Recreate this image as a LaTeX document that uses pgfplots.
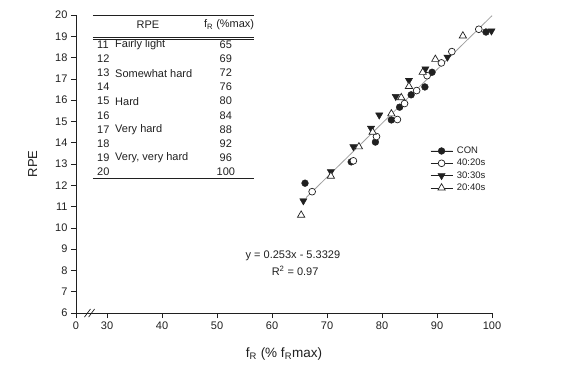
\documentclass[border=0pt]{standalone}
\usepackage{pgfplots}
\pgfplotsset{compat=1.18}
\usepackage{fontspec}
\setmainfont{Liberation Sans}
\definecolor{ink}{HTML}{202020}
\tikzset{tabnum/.style={anchor=west, text=ink, inner sep=0pt},
  tabval/.style={text=ink, inner sep=0pt}}
\begin{document}
\begin{tikzpicture}[font=\fontsize{11}{13}\selectfont]
\begin{axis}[
  scale only axis, width=416pt, height=298pt,
  xmin=24.36, xmax=100, ymin=6, ymax=20,
  axis lines=left,
  axis line style={-, ink, line width=0.7pt},
  xtick={24.36,30,40,50,60,70,80,90,100},
  xticklabels={0,30,40,50,60,70,80,90,100},
  ytick={6,7,...,20},
  tick align=outside, major tick length=5pt,
  tick style={ink, line width=0.7pt},
  /pgf/number format/assume math mode=true,
  ticklabel style={font=\fontsize{11}{13}\selectfont, text=ink},
  xlabel={f\textsubscript{R} (\% f\textsubscript{R}max)},
  ylabel={RPE},
  every axis x label/.style={at={(axis description cs:0.5,-0.138)}, anchor=center, font=\fontsize{13.5}{15}\selectfont, text=ink},
  every axis y label/.style={at={(axis description cs:-0.104,0.5)}, rotate=90, anchor=center, font=\fontsize{13}{15}\selectfont, text=ink},
  clip=false,
  legend style={draw=none, fill=none, at={(axis description cs:0.851,0.565)}, anchor=north west,
    inner sep=0pt, row sep=0pt, column sep=2.5pt, font=\fontsize{9.5}{11}\selectfont, text=ink,
    nodes={text height=7.3pt, text depth=2pt, inner sep=1.5pt}},
  legend cell align=left,
  mylegend/.style={legend image code/.code={
      \draw[ink, line width=0.7pt] (0pt,0pt) -- (22pt,0pt);
      \draw[##1] plot coordinates {(11pt,0pt)};}},
]
% regression line
\addplot[forget plot, gray!75, line width=0.8pt] coordinates {(66.2,11.42) (100,19.967)};

\addplot[only marks, mark=*, mark size=3.4pt, draw=ink, fill=ink, mylegend] table {
x y
66.0 12.1
74.4 13.1
78.8 14.03
81.7 15.07
83.2 15.67
85.3 16.25
87.8 16.62
89.1 17.31
98.9 19.2
};
\addlegendentry{CON}

\addplot[only marks, mark=*, mark size=3.4pt, mark options={draw=ink, fill=white, line width=0.7pt}, mylegend] table {
x y
67.3 11.7
74.8 13.15
79.0 14.29
82.8 15.09
84.1 15.84
86.3 16.45
88.2 17.15
90.8 17.75
92.7 18.28
97.6 19.33
};
\addlegendentry{40:20s}

\addplot[only marks, mark=triangle*, mark size=4.2pt, mark options={rotate=180, draw=ink, fill=ink}, mylegend] table {
x y
65.7 11.27
70.7 12.64
74.8 13.81
78.0 14.68
79.5 15.3
82.5 16.17
84.9 16.93
87.9 17.47
91.9 18.02
99.9 19.25
};
\addlegendentry{30:30s}

\addplot[only marks, mark=triangle*, mark size=4.2pt, mark options={draw=ink, fill=white, line width=0.7pt}, mylegend] table {
x y
65.3 10.6
70.7 12.43
75.8 13.81
78.3 14.5
81.7 15.36
83.5 16.12
84.9 16.65
87.4 17.31
89.7 17.92
94.7 19.02
};
\addlegendentry{20:40s}

% axis break
\draw[ink, line width=0.7pt] (axis cs:25.9,5.81) -- (axis cs:27.0,6.19);
\draw[ink, line width=0.7pt] (axis cs:26.65,5.81) -- (axis cs:27.75,6.19);

% table
\draw[ink, line width=0.7pt] (axis cs:27.45,20) -- (axis cs:56.7,20);
\node[text=ink] at (axis cs:37.45,19.53) {RPE};
\node[text=ink] at (axis cs:52.2,19.53) {f\textsubscript{R} (\%max)};
\draw[ink, line width=0.6pt] (axis cs:27.45,18.95) -- (axis cs:56.7,18.95);
\draw[ink, line width=0.6pt] (axis cs:27.45,18.84) -- (axis cs:56.7,18.84);
\node[tabnum] at (axis cs:28.18,18.59) {11};
\node[tabnum] at (axis cs:31.45,18.59) {Fairly light};
\node[tabval] at (axis cs:51.6,18.59) {65};
\node[tabnum] at (axis cs:28.18,17.93) {12};
\node[tabval] at (axis cs:51.6,17.93) {69};
\node[tabnum] at (axis cs:28.18,17.27) {13};
\node[tabnum] at (axis cs:31.45,17.27) {Somewhat hard};
\node[tabval] at (axis cs:51.6,17.27) {72};
\node[tabnum] at (axis cs:28.18,16.61) {14};
\node[tabval] at (axis cs:51.6,16.61) {76};
\node[tabnum] at (axis cs:28.18,15.95) {15};
\node[tabnum] at (axis cs:31.45,15.95) {Hard};
\node[tabval] at (axis cs:51.6,15.95) {80};
\node[tabnum] at (axis cs:28.18,15.29) {16};
\node[tabval] at (axis cs:51.6,15.29) {84};
\node[tabnum] at (axis cs:28.18,14.63) {17};
\node[tabnum] at (axis cs:31.45,14.63) {Very hard};
\node[tabval] at (axis cs:51.6,14.63) {88};
\node[tabnum] at (axis cs:28.18,13.97) {18};
\node[tabval] at (axis cs:51.6,13.97) {92};
\node[tabnum] at (axis cs:28.18,13.31) {19};
\node[tabnum] at (axis cs:31.45,13.31) {Very, very hard};
\node[tabval] at (axis cs:51.6,13.31) {96};
\node[tabnum] at (axis cs:28.18,12.65) {20};
\node[tabval] at (axis cs:51.6,12.65) {100};
\draw[ink, line width=0.7pt] (axis cs:27.45,12.33) -- (axis cs:56.7,12.33);

% equation
\node[text=ink] at (axis cs:63.8,8.70) {y = 0.253x - 5.3329};
\node[text=ink] at (axis cs:64.2,8.0) {R\textsuperscript{2} = 0.97};
\end{axis}
\path (current axis.south west) +(-76pt,-63pt);
\path (current axis.north east) +(92pt,15pt);
\end{tikzpicture}
\end{document}
